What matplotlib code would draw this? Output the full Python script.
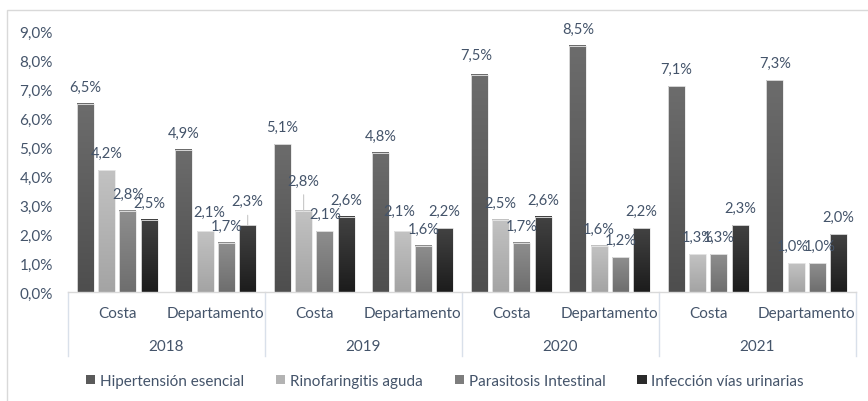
import matplotlib
matplotlib.use("Agg")
import matplotlib.pyplot as plt
import numpy as np
from matplotlib.patches import Rectangle
from matplotlib.transforms import blended_transform_factory
from matplotlib.colors import LinearSegmentedColormap

plt.rcParams['font.family'] = ['Lato', 'DejaVu Sans']

years = ['2018', '2019', '2020', '2021']
places = ['Costa', 'Departamento']
series = ['Hipertensión esencial', 'Rinofaringitis aguda',
          'Parasitosis Intestinal', 'Infección vías urinarias']

# one value per (year, place) in order 2018 Costa, 2018 Depto, 2019 Costa, ...
hipertension = [6.5, 4.9, 5.1, 4.8, 7.5, 8.5, 7.1, 7.3]
rinofaringitis = [4.2, 2.1, 2.8, 2.1, 2.5, 1.6, 1.3, 1.0]
parasitosis = [2.8, 1.7, 2.1, 1.6, 1.7, 1.2, 1.3, 1.0]
infeccion = [2.5, 2.3, 2.6, 2.2, 2.6, 2.2, 2.3, 2.0]
values = [hipertension, rinofaringitis, parasitosis, infeccion]

# (top colour, bottom colour) for the gradient fill
grad = [('#6c6c6c', '#4e4e4e'), ('#c2c2c2', '#a4a4a4'),
        ('#8e8e8e', '#6e6e6e'), ('#424242', '#1c1c1c')]
legend_cols = ['#5a5a5a', '#b3b3b3', '#7d7d7d', '#2a2a2a']

txt = '#44546A'
W, H = 868, 402
fig = plt.figure(figsize=(W / 100, H / 100), dpi=100)
ax = fig.add_axes([68 / W, (H - 293) / H, (856 - 68) / W, (293 - 32) / H])

# outer chart border (only top/left visible in the crop)
fig.add_artist(Rectangle((7 / W, -0.1), 1.2, (H - 11) / H + 0.1,
                         transform=fig.transFigure, fill=False,
                         edgecolor='#d9d9d9', lw=1.0))

step = 0.216
bw = 0.172
offs = (np.arange(4) - 1.5) * step
grad_img = np.linspace(0, 1, 64).reshape(-1, 1)

# manual label tweaks (dx px, extra dy px, leader line)
tweak = {(1, 1): (4, 2, False), (3, 1): (0, 7, True), (1, 2): (0, 13, True),
         (0, 4): (-3, 3, False), (1, 3): (-3, 3, False), (1, 7): (-3, 0, False),
         (2, 7): (2, 0, False)}

for s in range(4):
    cmap = LinearSegmentedColormap.from_list('g%d' % s, [grad[s][0], grad[s][1]])
    for i in range(8):
        x = i + 0.5 + offs[s]
        v = values[s][i]
        ax.imshow(grad_img, extent=(x - bw / 2, x + bw / 2, 0, v),
                  cmap=cmap, aspect='auto', origin='upper', zorder=2)
        ax.add_patch(Rectangle((x - bw / 2, 0), bw, v, fill=False,
                               edgecolor='#e8e8e8', lw=0.6, zorder=3))
        dx, dy, lead = tweak.get((s, i), (0, 0, False))
        label = ('%.1f%%' % v).replace('.', ',')
        ax.annotate(label, (x, v), xytext=(dx * 0.72, (10 + dy) * 0.72),
                    textcoords='offset points', ha='center', va='bottom',
                    fontsize=10.5, color=txt, zorder=5)
        if lead:
            ax.annotate('', (x, v), xytext=(dx * 0.72, (dy + 3) * 0.72),
                        textcoords='offset points',
                        arrowprops=dict(arrowstyle='-', color='#c8c8c8', lw=0.8,
                                        shrinkA=0, shrinkB=0))

ax.set_xlim(0, 8)
ax.set_ylim(0, 9)
ax.set_yticks(np.arange(0, 10, 1))
ax.set_yticklabels([('%.1f%%' % t).replace('.', ',') for t in range(10)],
                   fontsize=11, color=txt)
ax.tick_params(axis='y', length=0, pad=11)
ax.set_xticks([])
for sp in ['top', 'right', 'left']:
    ax.spines[sp].set_visible(False)
ax.spines['bottom'].set_color('#d9d9d9')
ax.spines['bottom'].set_linewidth(1.0)

tr = blended_transform_factory(ax.transData, ax.transAxes)
axh = 293 - 32
for i in range(8):
    ax.text(i + 0.5, -21 / axh, places[i % 2], transform=tr, ha='center',
            va='center', fontsize=11, color=txt)
for g in range(4):
    ax.text(2 * g + 1, -54 / axh, years[g], transform=tr, ha='center',
            va='center', fontsize=11, color=txt)
for g in range(5):
    ax.plot([2 * g, 2 * g], [0, -64 / axh], transform=tr, color='#d9e0ea',
            lw=1.0, clip_on=False)

handles = [Rectangle((0, 0), 1, 1, facecolor=c, edgecolor='none') for c in legend_cols]
fig.legend(handles, series, loc='center', bbox_to_anchor=(445 / W, (H - 382) / H),
           ncol=4, frameon=False, fontsize=11, labelcolor=txt,
           handlelength=0.6, handleheight=0.6, handletextpad=0.3,
           columnspacing=2.1)

fig.savefig('out.png', dpi=100)
